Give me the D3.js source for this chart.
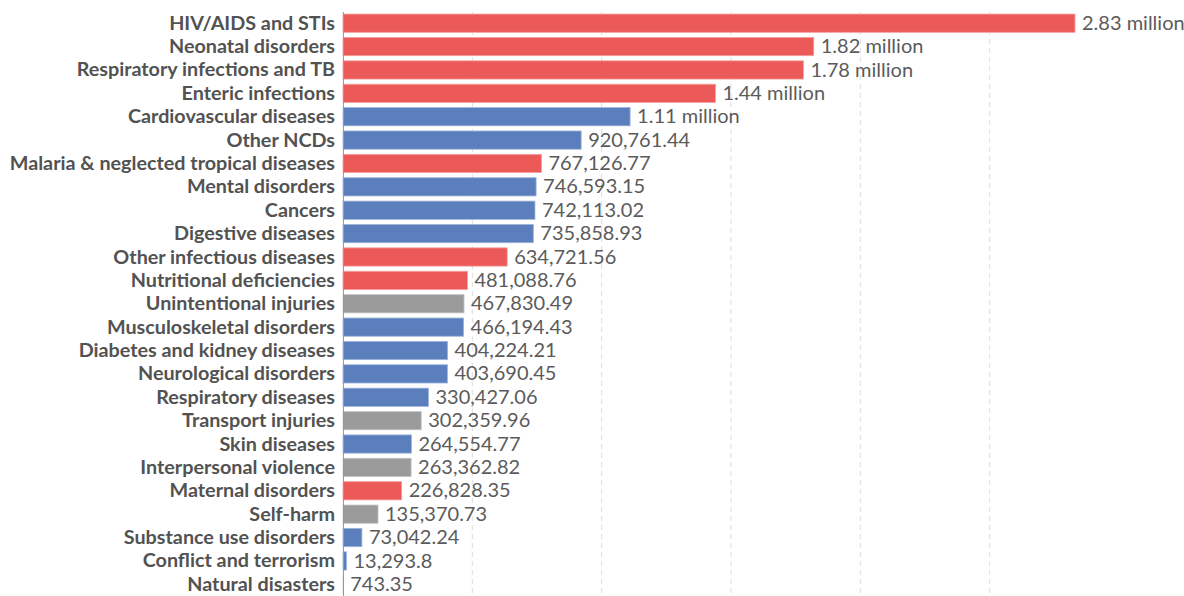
<!DOCTYPE html>
<html>
<head>
<meta charset="utf-8">
<script src="https://cdn.jsdelivr.net/npm/d3@7"></script>
<style>
  html, body { margin: 0; padding: 0; background: #fff; }
  svg { display: block; font-family: Lato, "Noto Sans", sans-serif; }
</style>
</head>
<body>
<svg id="chart" width="1184" height="596"></svg>
<script>
// Causes, ordered by value (descending)
const causes = [
  "HIV/AIDS and STIs", "Neonatal disorders", "Respiratory infections and TB",
  "Enteric infections", "Cardiovascular diseases", "Other NCDs",
  "Malaria & neglected tropical diseases", "Mental disorders", "Cancers",
  "Digestive diseases", "Other infectious diseases", "Nutritional deficiencies",
  "Unintentional injuries", "Musculoskeletal disorders", "Diabetes and kidney diseases",
  "Neurological disorders", "Respiratory diseases", "Transport injuries",
  "Skin diseases", "Interpersonal violence", "Maternal disorders", "Self-harm",
  "Substance use disorders", "Conflict and terrorism", "Natural disasters"
];
const values = [
  2830000, 1820000, 1780000, 1440000, 1110000, 920761.44,
  767126.77, 746593.15, 742113.02, 735858.93, 634721.56, 481088.76,
  467830.49, 466194.43, 404224.21, 403690.45, 330427.06, 302359.96,
  264554.77, 263362.82, 226828.35, 135370.73, 73042.24, 13293.8, 743.35
];
// Cause group: communicable (c), non-communicable (n), injuries (i)
const groups = [
  "c", "c", "c", "c", "n", "n", "c", "n", "n", "n", "c", "c",
  "i", "n", "n", "n", "n", "i", "n", "i", "c", "i", "n", "n", "i"
];
const gridTicks = [500000, 1000000, 1500000, 2000000, 2500000];

const groupColor = { c: "#eb5a58", n: "#5b7fbd", i: "#9b9b9b" };
const groupStroke = { c: "#f3a09e", n: "#9fb4da", i: "#c4c4c4" };

const rows = causes.map((name, i) => ({ name, value: values[i], group: groups[i] }));

const svg = d3.select("#chart");
const left = 343;

const x = d3.scaleLinear().domain([0, 2830000]).range([left, 1075]);
const y = d3.scaleBand().domain(causes).range([11.5, 596]).paddingInner(0.22).paddingOuter(0.11);

// dashed vertical gridlines
svg.append("g")
  .selectAll("line")
  .data(gridTicks)
  .join("line")
  .attr("x1", d => x(d)).attr("x2", d => x(d))
  .attr("y1", 12).attr("y2", 596)
  .attr("stroke", "#dcdcdc")
  .attr("stroke-width", 1)
  .attr("stroke-dasharray", "5,4");

// bars
svg.append("g")
  .selectAll("rect")
  .data(rows)
  .join("rect")
  .attr("x", x(0))
  .attr("y", d => y(d.name))
  .attr("width", d => Math.max(0, x(d.value) - x(0)))
  .attr("height", y.bandwidth())
  .attr("fill", d => groupColor[d.group])
  .attr("stroke", d => groupStroke[d.group])
  .attr("stroke-width", 0.8);

// baseline
svg.append("line")
  .attr("x1", left + 0.5).attr("x2", left + 0.5)
  .attr("y1", 12).attr("y2", 596)
  .attr("stroke", "#9a9a9a").attr("stroke-width", 1);

// category labels
svg.append("g")
  .selectAll("text")
  .data(rows)
  .join("text")
  .attr("x", left - 8)
  .attr("y", d => y(d.name) + y.bandwidth() / 2)
  .attr("dy", "0.33em")
  .attr("text-anchor", "end")
  .attr("font-size", 19.75)
  .attr("font-weight", 700)
  .attr("fill", "#525252")
  .text(d => d.name);

// value labels
const fmt = v => v >= 1e6
  ? d3.format(".2f")(v / 1e6) + " million"
  : d3.format(",")(v);

svg.append("g")
  .selectAll("text")
  .data(rows)
  .join("text")
  .attr("x", d => x(d.value) + 7)
  .attr("y", d => y(d.name) + y.bandwidth() / 2)
  .attr("dy", "0.33em")
  .attr("font-size", 20)
  .attr("fill", "#5b5b5b")
  .text(d => fmt(d.value));
</script>
</body>
</html>
